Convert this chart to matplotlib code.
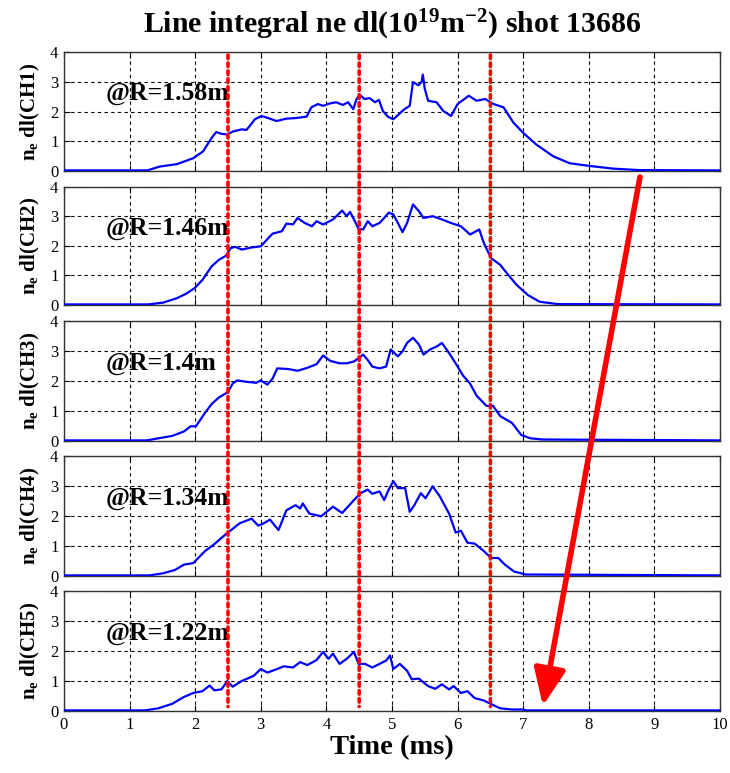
import matplotlib
matplotlib.use("Agg")
import matplotlib.pyplot as plt
from matplotlib.patches import ConnectionPatch
import numpy as np

plt.rcParams['font.family'] = ['Liberation Serif', 'DejaVu Serif']
plt.rcParams['mathtext.fontset'] = 'custom'
plt.rcParams['mathtext.rm'] = 'Liberation Serif:bold'
plt.rcParams['mathtext.bf'] = 'Liberation Serif:bold'
plt.rcParams['mathtext.it'] = 'Liberation Serif:bold:italic'

# ---------------- data ----------------
ch1_t = [0.0, 1.27, 1.46, 1.72, 1.82, 1.97, 2.12, 2.25, 2.32, 2.40, 2.48, 2.58, 2.71, 2.78, 2.83, 2.91,
         3.01, 3.11, 3.24, 3.39, 3.54, 3.70, 3.77, 3.87, 3.95, 4.05, 4.15, 4.25, 4.33, 4.41, 4.46,
         4.51, 4.58, 4.66, 4.74, 4.80, 4.86, 4.94, 5.02, 5.09, 5.19, 5.27, 5.32, 5.40, 5.45, 5.47,
         5.50, 5.55, 5.68, 5.78, 5.90, 6.00, 6.17, 6.29, 6.42, 6.55, 6.70, 6.85, 7.00, 7.20, 7.46,
         7.71, 8.01, 8.37, 8.77, 10.0]
ch1_v = [0.02, 0.02, 0.15, 0.23, 0.31, 0.43, 0.66, 1.11, 1.31, 1.25, 1.23, 1.33, 1.40, 1.38, 1.51, 1.74,
         1.85, 1.78, 1.68, 1.76, 1.78, 1.83, 2.14, 2.25, 2.19, 2.27, 2.31, 2.22, 2.31, 2.08, 2.42,
         2.56, 2.42, 2.45, 2.31, 2.39, 2.02, 1.82, 1.74, 1.88, 2.08, 2.19, 2.99, 2.88, 2.99, 3.24,
         2.76, 2.36, 2.31, 2.02, 1.85, 2.25, 2.53, 2.36, 2.42, 2.25, 2.14, 1.63, 1.28, 0.89, 0.49,
         0.26, 0.17, 0.08, 0.03, 0.02]

ch2_t = [0.0, 1.28, 1.51, 1.72, 1.86, 1.99, 2.11, 2.25, 2.36, 2.47, 2.54, 2.61, 2.71, 2.86, 3.00, 3.07,
         3.18, 3.32, 3.39, 3.49, 3.56, 3.67, 3.78, 3.85, 3.95, 4.10, 4.24, 4.31, 4.36, 4.42, 4.49,
         4.56, 4.63, 4.70, 4.81, 4.88, 4.95, 5.02, 5.09, 5.16, 5.23, 5.32, 5.41, 5.48, 5.62, 5.76,
         5.90, 6.05, 6.19, 6.33, 6.40, 6.51, 6.65, 6.75, 6.90, 7.07, 7.25, 7.53, 10.0]
ch2_v = [0.02, 0.02, 0.08, 0.23, 0.38, 0.57, 0.85, 1.31, 1.53, 1.67, 1.93, 1.97, 1.88, 1.95, 1.99, 2.16,
         2.42, 2.50, 2.76, 2.73, 2.95, 2.78, 2.67, 2.84, 2.73, 2.90, 3.20, 3.01, 3.16, 2.90, 2.58,
         2.56, 2.84, 2.67, 2.78, 2.95, 3.13, 3.07, 2.78, 2.47, 2.78, 3.41, 3.18, 2.95, 3.01, 2.90,
         2.78, 2.67, 2.39, 2.56, 2.10, 1.59, 1.36, 1.08, 0.68, 0.34, 0.11, 0.03, 0.02]

ch3_t = [0.0, 1.26, 1.44, 1.65, 1.83, 1.93, 2.01, 2.15, 2.25, 2.36, 2.50, 2.57, 2.64, 2.79, 2.93, 3.00,
         3.10, 3.18, 3.25, 3.42, 3.56, 3.71, 3.85, 3.95, 4.06, 4.20, 4.31, 4.42, 4.49, 4.56, 4.63,
         4.70, 4.81, 4.91, 4.98, 5.09, 5.16, 5.23, 5.32, 5.41, 5.48, 5.58, 5.69, 5.76, 5.87, 5.97,
         6.08, 6.19, 6.29, 6.44, 6.54, 6.65, 6.83, 6.97, 7.11, 7.29, 10.0]
ch3_v = [0.02, 0.02, 0.09, 0.17, 0.32, 0.49, 0.49, 0.94, 1.23, 1.45, 1.63, 1.91, 2.02, 1.97, 1.94, 2.02,
         1.88, 2.08, 2.42, 2.40, 2.34, 2.44, 2.56, 2.85, 2.67, 2.59, 2.59, 2.65, 2.76, 2.88, 2.70,
         2.48, 2.42, 2.48, 3.05, 2.82, 2.99, 3.27, 3.44, 3.22, 2.88, 3.05, 3.16, 3.27, 2.93, 2.59,
         2.19, 1.91, 1.51, 1.17, 1.17, 0.83, 0.60, 0.20, 0.09, 0.05, 0.02]

ch4_t = [0.0, 1.30, 1.51, 1.69, 1.83, 1.97, 2.15, 2.29, 2.47, 2.57, 2.68, 2.86, 2.96, 3.03, 3.14, 3.27,
         3.39, 3.53, 3.60, 3.64, 3.74, 3.92, 4.10, 4.24, 4.42, 4.52, 4.63, 4.70, 4.81, 4.88, 4.95,
         5.02, 5.09, 5.20, 5.27, 5.34, 5.44, 5.51, 5.62, 5.73, 5.87, 5.97, 6.05, 6.15, 6.26, 6.40,
         6.51, 6.62, 6.72, 6.86, 7.04, 10.0]
ch4_v = [0.02, 0.02, 0.09, 0.20, 0.38, 0.43, 0.83, 1.06, 1.40, 1.57, 1.76, 1.91, 1.68, 1.74, 1.88, 1.53,
         2.19, 2.36, 2.25, 2.42, 2.08, 1.99, 2.31, 2.10, 2.53, 2.76, 2.88, 2.74, 2.82, 2.53, 2.88,
         3.16, 2.93, 2.93, 2.14, 2.36, 2.76, 2.59, 2.99, 2.65, 2.08, 1.45, 1.51, 1.11, 1.08, 0.83,
         0.60, 0.60, 0.38, 0.15, 0.05, 0.02]

ch5_t = [0.0, 1.23, 1.44, 1.65, 1.83, 1.97, 2.11, 2.22, 2.29, 2.40, 2.49, 2.57, 2.71, 2.89, 3.00, 3.10,
         3.25, 3.35, 3.49, 3.60, 3.71, 3.85, 3.95, 4.03, 4.10, 4.20, 4.31, 4.42, 4.49, 4.59, 4.70,
         4.81, 4.91, 4.97, 5.02, 5.12, 5.23, 5.30, 5.41, 5.55, 5.66, 5.76, 5.87, 5.94, 6.05, 6.15,
         6.26, 6.40, 6.54, 6.65, 6.83, 7.00, 7.05, 10.0]
ch5_v = [0.02, 0.02, 0.09, 0.24, 0.47, 0.60, 0.66, 0.85, 0.69, 0.72, 1.00, 0.81, 1.00, 1.17, 1.40, 1.28,
         1.40, 1.49, 1.45, 1.63, 1.53, 1.70, 1.97, 1.74, 1.91, 1.57, 1.74, 1.97, 1.57, 1.57, 1.45,
         1.57, 1.68, 1.85, 1.40, 1.57, 1.34, 1.06, 1.08, 0.83, 0.74, 0.89, 0.72, 0.83, 0.60, 0.66,
         0.43, 0.35, 0.20, 0.09, 0.05, 0.05, 0.02, 0.02]

series_t = [ch1_t, ch2_t, ch3_t, ch4_t, ch5_t]
series_v = [ch1_v, ch2_v, ch3_v, ch4_v, ch5_v]
channels = ['CH1', 'CH2', 'CH3', 'CH4', 'CH5']
radii = ['@R=1.58m', '@R=1.46m', '@R=1.4m', '@R=1.34m', '@R=1.22m']
marker_times = [2.5, 4.5, 6.5]
arrow_start = (8.78, -0.2)   # in CH1 data coords
arrow_end = (7.30, 0.17)     # in CH5 data coords
x_ticks = list(range(0, 11))
y_ticks = [0, 1, 2, 3, 4]

# ---------------- figure ----------------
W, H = 730, 773
fig = plt.figure(figsize=(W / 100, H / 100), dpi=100)

left_px, right_px = 64, 720
tops_px = [52, 187, 321, 456, 591]
bots_px = [171, 305, 441, 576, 711]

axes = []
for i in range(5):
    ax = fig.add_axes([left_px / W, 1 - bots_px[i] / H,
                       (right_px - left_px) / W, (bots_px[i] - tops_px[i]) / H])
    ax.plot(series_t[i], series_v[i], color='#0000ff', lw=1.6, zorder=3)
    ax.set_xlim(0, 10)
    ax.set_ylim(0, 4)
    ax.set_xticks(x_ticks)
    ax.set_yticks(y_ticks)
    ax.grid(True, color='black', linestyle=(0, (3, 3)), linewidth=0.8)
    ax.tick_params(direction='in', length=4, labelsize=12, top=True, right=True, pad=4)
    for s in ax.spines.values():
        s.set_linewidth(1.0)
        s.set_color('#333333')
    ax.set_ylabel(r'n$_\mathrm{e}$ dl(' + channels[i] + ')', fontsize=15, fontweight='bold', labelpad=6)
    ax.text(0.63, 2.38, radii[i], fontsize=18.5, fontweight='bold', va='baseline', ha='left', zorder=4)
    if i < 4:
        ax.tick_params(labelbottom=False)
    axes.append(ax)

axes[-1].set_xlabel('Time (ms)', fontsize=20.5, fontweight='bold', labelpad=2)
fig.suptitle(r'Line integral ne dl(10$^{19}$m$^{-2}$) shot 13686', fontsize=21.5,
             fontweight='bold', x=(left_px + right_px) / 2 / W, y=1 - 25 / H, va='center')

for t in marker_times:
    cp = ConnectionPatch(xyA=(t, 3.9), coordsA=axes[0].transData,
                         xyB=(t, 0.15), coordsB=axes[-1].transData,
                         color='#ff0000', lw=2.6, linestyle=(0, (1, 1.2)), zorder=5)
    fig.add_artist(cp)

arr = ConnectionPatch(xyA=arrow_start, coordsA=axes[0].transData,
                      xyB=arrow_end, coordsB=axes[-1].transData,
                      arrowstyle='-|>,head_length=1.4,head_width=0.6', mutation_scale=16,
                      color='#ff0000', lw=4, zorder=6)
fig.add_artist(arr)

fig.savefig('out.png', dpi=100)
